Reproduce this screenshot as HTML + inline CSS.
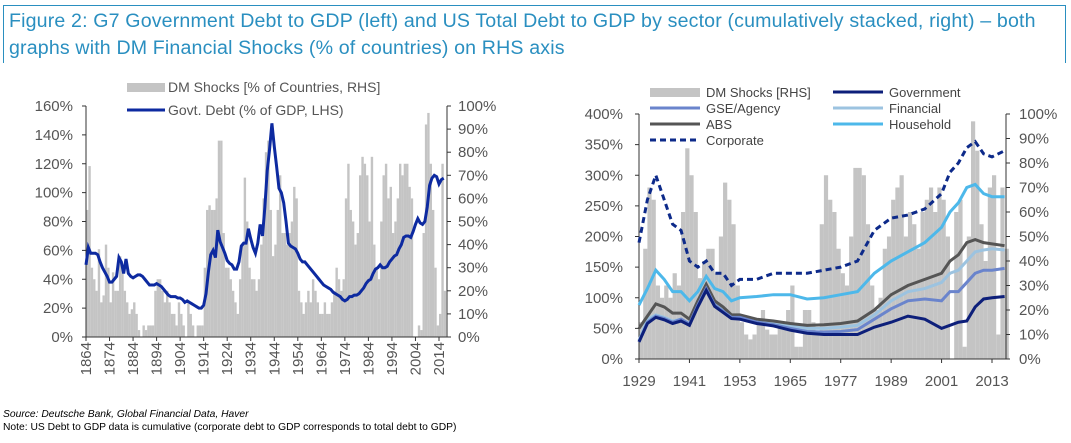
<!DOCTYPE html>
<html><head><meta charset="utf-8"><style>
body{margin:0;background:#fff;width:1071px;height:443px;overflow:hidden;font-family:"Liberation Sans",sans-serif}
#title{position:absolute;left:3px;top:5px;width:1063px;height:58px;border-top:1px solid #2a8fc0;border-left:1px solid #2a8fc0;border-right:1px solid #2a8fc0;color:#2a8fc0;font-size:19.6px;letter-spacing:0.15px;line-height:27px;padding:2px 0 0 5px;box-sizing:border-box}
.foot{position:absolute;left:3px;font-size:10.3px;color:#000}
</style></head><body>
<div id="title">Figure 2: G7 Government Debt to GDP (left) and US Total Debt to GDP by sector (cumulatively stacked, right) – both graphs with DM Financial Shocks (% of countries) on RHS axis</div>
<svg id="c" width="1071" height="443" style="position:absolute;left:0;top:0"></svg>
<div class="foot" style="top:409px;font-style:italic">Source: Deutsche Bank, Global Financial Data, Haver</div>
<div class="foot" style="top:422px">Note: US Debt to GDP data is cumulative (corporate debt to GDP corresponds to total debt to GDP)</div>
<script>
const leftShocks=[55,74,30,25,20,38,15,18,40,30,15,28,20,20,35,30,20,15,10,12,15,10,3,0,5,3,5,5,5,20,25,25,20,15,20,15,10,10,5,15,10,5,0,15,10,5,0,5,5,5,30,55,57,55,55,60,85,85,45,30,30,25,20,15,10,25,40,69,50,30,25,25,20,25,40,60,80,85,55,35,40,55,70,45,45,40,45,50,65,60,20,15,10,15,20,15,25,20,15,10,10,15,10,10,15,20,30,25,20,25,60,75,55,50,40,45,70,78,75,70,50,78,40,30,25,50,70,75,60,65,45,50,60,75,70,75,75,65,60,0,0,5,3,45,92,97,75,55,30,5,10,75,20];
const leftDebt=[50,62,58,58,58,57,52,48,45,42,38,38,40,42,55,52,44,54,44,42,41,42,43,43,42,40,38,36,36,36,37,36,35,33,31,29,28,28,28,27,27,26,24,25,24,23,22,21,20,20,22,30,45,57,60,55,74,66,62,58,53,51,50,47,47,52,63,65,65,75,68,62,58,65,78,70,90,115,130,148,132,118,103,100,93,80,65,63,62,61,58,54,52,52,50,48,46,44,42,40,38,36,35,34,33,31,30,29,28,26,25,26,28,28,29,29,30,32,34,37,39,40,44,47,48,50,48,48,49,52,54,56,57,61,64,69,70,70,69,73,78,82,79,78,80,90,105,110,112,111,106,109,110];
const leftStart=1864;
const leftTicksL=["0%","20%","40%","60%","80%","100%","120%","140%","160%"];
const ticksR=["0%","10%","20%","30%","40%","50%","60%","70%","80%","90%","100%"];
const leftYears=[1864,1874,1884,1894,1904,1914,1924,1934,1944,1954,1964,1974,1984,1994,2004,2014];
const rightShocks=[15,45,70,65,30,25,30,25,35,30,60,86,75,60,33,40,45,45,35,50,72,65,55,30,15,10,8,10,15,20,12,10,10,15,15,20,30,5,5,20,20,15,10,55,75,65,60,45,35,30,50,78,78,75,55,30,20,25,45,50,65,70,75,50,60,55,45,60,65,70,60,70,65,50,0,60,65,5,50,97,85,55,40,70,75,10,70,45];
const rightStart=1929;
const rYears=[1929,1931,1933,1935,1937,1939,1941,1943,1945,1947,1949,1951,1953,1957,1961,1965,1969,1973,1977,1981,1985,1989,1993,1997,2001,2003,2005,2007,2009,2011,2013,2016];
const corporate=[190,260,300,260,220,210,160,150,160,140,140,120,130,130,140,140,140,145,150,160,210,230,235,245,270,305,320,345,355,335,330,340];
const household=[88,115,145,130,110,110,95,110,135,115,110,95,100,102,105,105,98,100,105,110,140,160,175,190,215,240,255,280,285,270,265,265];
const abs=[50,70,90,85,75,75,65,95,122,95,85,72,72,65,62,58,55,56,58,62,80,105,120,130,140,160,170,190,195,190,188,185];
const financial=[30,65,72,68,62,65,58,90,118,90,80,70,70,62,58,54,50,50,52,55,72,95,110,115,125,140,145,160,175,178,180,178];
const gse=[28,60,70,66,60,65,57,88,115,88,78,68,68,60,56,50,45,44,45,48,65,82,95,98,95,110,110,125,140,145,145,148];
const government=[28,58,68,64,58,62,55,85,112,86,76,66,65,58,54,47,42,40,40,40,52,60,70,65,50,55,60,62,85,98,100,102];
const rightTicksL=["0%","50%","100%","150%","200%","250%","300%","350%","400%"];
const rightYears=[1929,1941,1953,1965,1977,1989,2001,2013];

const svg=document.getElementById('c');const NS='http://www.w3.org/2000/svg';
function mk(t,a,p){const e=document.createElementNS(NS,t);for(const k in a)e.setAttribute(k,a[k]);(p||svg).appendChild(e);return e;}
function txt(x,y,s,anchor,size,p){const t=mk('text',{x:x,y:y,'text-anchor':anchor,'font-size':size||15,fill:'#555','font-family':'Liberation Sans, sans-serif'},p);t.textContent=s;return t;}

// LEFT
const L={x0:86,x1:447,y0:337,y1:106};
const lx=y=>L.x0+(y-1864)*(439-86)/150;
const lyL=v=>L.y0-v/160*(L.y0-L.y1);
const lyR=v=>L.y0-v/100*(L.y0-L.y1);
const gL=mk('g',{});
leftShocks.forEach((v,i)=>{const b=mk('rect',{x:lx(leftStart+i),y:lyR(v),width:2.4,height:L.y0-lyR(v),fill:'#c4c4c4'},gL);
});
mk('line',{x1:L.x0,y1:L.y1,x2:L.x0,y2:L.y0,stroke:'#333'},gL);
mk('line',{x1:L.x1,y1:L.y1,x2:L.x1,y2:L.y0,stroke:'#333'},gL);
mk('line',{x1:L.x0,y1:L.y0,x2:L.x1,y2:L.y0,stroke:'#333'},gL);
leftTicksL.forEach((s,i)=>{const y=lyL(i*20);mk('line',{x1:L.x0-4,y1:y,x2:L.x0,y2:y,stroke:'#333'},gL);const t=txt(73,y+5,s,'end',15,gL);});
ticksR.forEach((s,i)=>{const y=lyR(i*10);mk('line',{x1:L.x1,y1:y,x2:L.x1+4,y2:y,stroke:'#333'},gL);const t=txt(458,y+5,s,'start',15,gL);});
leftYears.forEach(yr=>{const x=lx(yr);mk('line',{x1:x,y1:L.y0,x2:x,y2:L.y0+4,stroke:'#333'},gL);const t=txt(0,0,String(yr),'end',15,gL);t.setAttribute('transform','translate('+(x+5)+','+(L.y0+5)+') rotate(-90)');});
const lp=mk('polyline',{points:leftDebt.map((v,i)=>lx(leftStart+i)+','+lyL(v)).join(' '),fill:'none',stroke:'#0d2aa0','stroke-width':3},gL);

mk('rect',{x:127,y:83,width:38,height:9,fill:'#c4c4c4'},gL);txt(168,92,'DM Shocks [% of Countries, RHS]','start',14,gL);
mk('line',{x1:127,y1:110,x2:165,y2:110,stroke:'#0d2aa0','stroke-width':3},gL);txt(168,115,'Govt. Debt (% of GDP, LHS)','start',14,gL);

// RIGHT
const R={x0:639,x1:1006,y0:359,y1:114};
const rx=y=>R.x0+(y-1929)*(992-639)/84;
const ryL=v=>R.y0-v/400*(R.y0-R.y1);
const ryR=v=>R.y0-v/100*(R.y0-R.y1);
const gR=mk('g',{});
rightShocks.forEach((v,i)=>{const b=mk('rect',{x:rx(rightStart+i),y:ryR(v),width:4.2,height:R.y0-ryR(v),fill:'#c4c4c4'},gR);
});
mk('line',{x1:R.x0,y1:R.y1,x2:R.x0,y2:R.y0,stroke:'#333'},gR);
mk('line',{x1:R.x1,y1:R.y1,x2:R.x1,y2:R.y0,stroke:'#333'},gR);
mk('line',{x1:R.x0,y1:R.y0,x2:R.x1,y2:R.y0,stroke:'#333'},gR);
rightTicksL.forEach((s,i)=>{const y=ryL(i*50);mk('line',{x1:R.x0-4,y1:y,x2:R.x0,y2:y,stroke:'#333'},gR);const t=txt(623,y+5,s,'end',15,gR);});
ticksR.forEach((s,i)=>{const y=ryR(i*10);mk('line',{x1:R.x1,y1:y,x2:R.x1+4,y2:y,stroke:'#333'},gR);const t=txt(1019,y+5,s,'start',15,gR);});
rightYears.forEach(yr=>{const x=rx(yr);mk('line',{x1:x,y1:R.y0,x2:x,y2:R.y0+4,stroke:'#333'},gR);const t=txt(x,386,String(yr),'middle',15,gR);});
const series=[['corporate',corporate,'#0d2a8a','6,4'],['household',household,'#4db8ea',''],['financial',financial,'#9cc3e0',''],['abs',abs,'#555555',''],['gse',gse,'#6a84cc',''],['government',government,'#0d1f7a','']];
series.forEach(s=>{const p=mk('polyline',{points:s[1].map((v,i)=>rx(rYears[i])+','+ryL(v)).join(' '),fill:'none',stroke:s[2],'stroke-width':3,'stroke-dasharray':s[3]},gR);
});
const leg=[[650,92,'DM Shocks [RHS]','bar','#c4c4c4',''],[650,108,'GSE/Agency','line','#6a84cc',''],[650,124,'ABS','line','#555',''],[650,140,'Corporate','line','#0d2a8a','6,4'],[833,92,'Government','line','#0d1f7a',''],[833,108,'Financial','line','#9cc3e0',''],[833,124,'Household','line','#4db8ea','']];
leg.forEach(l=>{if(l[3]=='bar')mk('rect',{x:l[0],y:l[1]-4,width:50,height:9,fill:l[4]},gR);else mk('line',{x1:l[0],y1:l[1],x2:l[0]+50,y2:l[1],stroke:l[4],'stroke-width':3,'stroke-dasharray':l[5]},gR);
const t=txt(l[0]+56,l[1]+5,l[2],'start',13,gR);t.setAttribute('fill','#444');});
</script>
</body></html>
